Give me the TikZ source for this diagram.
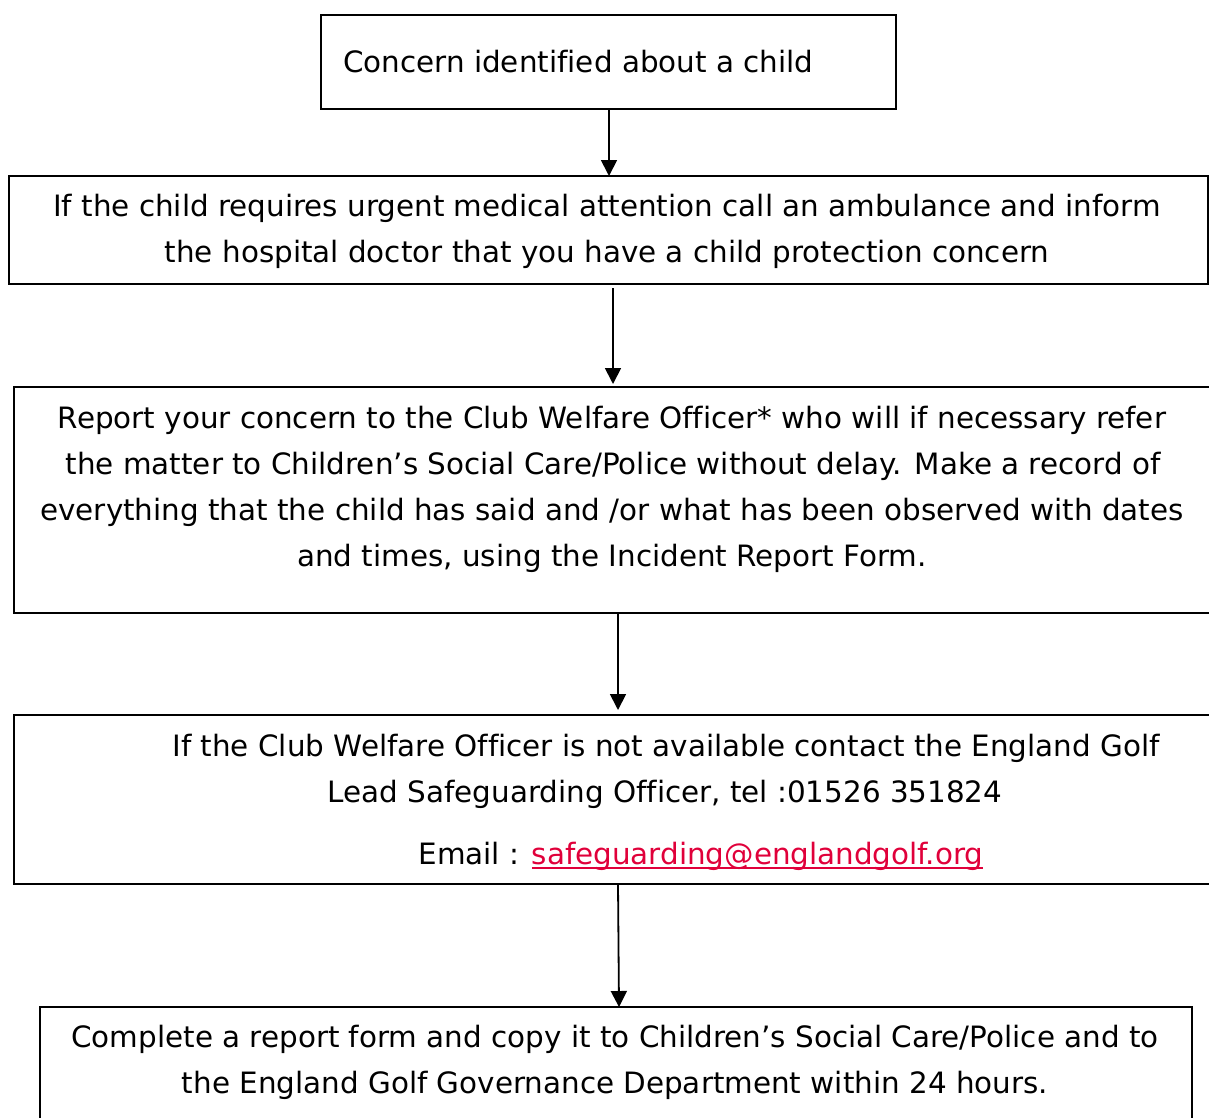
\documentclass[tikz,border=0pt]{standalone}
\usepackage{fontspec}
\setmainfont[Ligatures={NoCommon}]{DejaVu Sans}
\usetikzlibrary{arrows.meta}
\definecolor{linkred}{HTML}{E0003A}
\newcommand\redul[1]{\setbox0\hbox{#1}\rlap{\rule[-5pt]{\wd0}{2pt}}\box0}
\begin{document}
\begin{tikzpicture}[x=1pt,y=-1pt,
  box/.style={draw=black,line width=2pt,rectangle,inner sep=0pt},
  txt/.style={anchor=base,inner sep=0pt,font=\fontsize{29.4}{35}\selectfont},
  arr/.style={line width=1.8pt,-{Triangle[width=16pt,length=16pt]}}]
\useasboundingbox (0,0) rectangle (1209,1117);
\clip (0,0) rectangle (1209,1117);
% boxes
\node[box,minimum width=575pt,minimum height=94pt] (b1) at (608.5,62) {};
\node[box,minimum width=1199pt,minimum height=108pt] (b2) at (608.5,230) {};
\node[box,minimum width=1210pt,minimum height=226pt] (b3) at (619,500) {};
\node[box,minimum width=1210pt,minimum height=169pt] (b4) at (619,799.5) {};
\node[box,minimum width=1152pt,minimum height=130pt] (b5) at (616,1072) {};
% texts
\node[txt,anchor=base west] (t1) at (343,72) {Concern identified about a child};
\node[txt] (t2a) at (607,216) {If the child requires urgent medical attention call an ambulance and inform};
\node[txt] (t2b) at (607,262) {the hospital doctor that you have a child protection concern};
\node[txt] (t3a) at (612,428) {Report your concern to the Club Welfare Officer* who will if necessary refer};
\node[txt] (t3b) at (613,474) {the matter to Children’s Social Care/Police without delay. Make a record of};
\node[txt] (t3c) at (612,520) {everything that the child has said and /or what has been observed with dates};
\node[txt] (t3d) at (612,566) {and times, using the Incident Report Form.};
\node[txt] (t4a) at (666,756) {If the Club Welfare Officer is not available contact the England Golf};
\node[txt] (t4b) at (665,802) {Lead Safeguarding Officer, tel :01526 351824};
\node[txt] (t4c) at (701,864) {Email : \textcolor{linkred}{\redul{safeguarding@englandgolf.org}}};
\node[txt] (t5a) at (615,1047) {Complete a report form and copy it to Children’s Social Care/Police and to};
\node[txt] (t5b) at (615,1093) {the England Golf Governance Department within 24 hours.};
% connectors
\coordinate (c1) at (609,109);
\coordinate (c2) at (609,176);
\draw[arr] (c1) -- (c2);
\coordinate (c3) at (613,288);
\coordinate (c4) at (613,384);
\draw[arr] (c3) -- (c4);
\coordinate (c5) at (618,613);
\coordinate (c6) at (618,710);
\draw[arr] (c5) -- (c6);
\coordinate (c7) at (618,884);
\coordinate (c8) at (619,1007);
\draw[arr] (c7) -- (c8);
\end{tikzpicture}
\end{document}
